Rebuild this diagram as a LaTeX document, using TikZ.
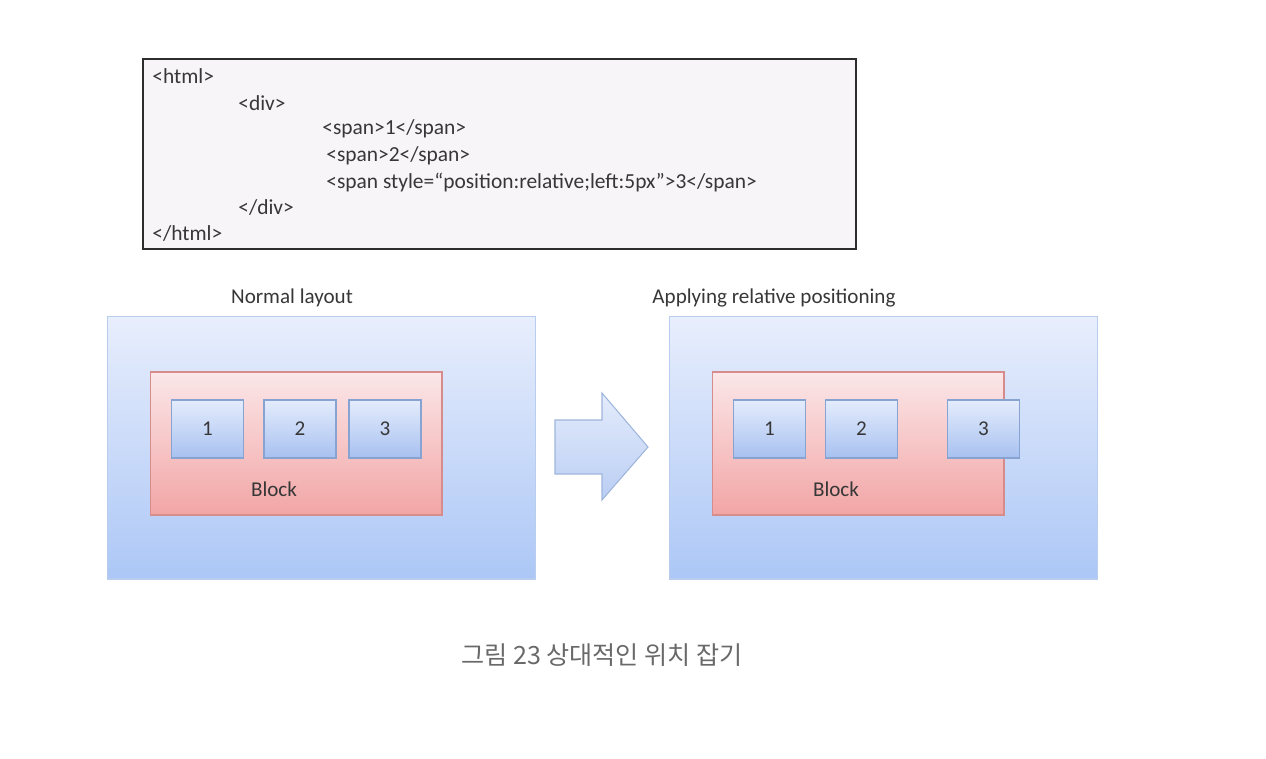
\documentclass[tikz,border=0pt]{standalone}
\usepackage{fontspec}
\setmainfont{Carlito}
\newfontfamily\krfont{Noto Sans CJK KR}
\usepackage{tikz}
\usetikzlibrary{positioning, shadows}
\definecolor{codefill}{RGB}{248,245,248}
\definecolor{codeline}{RGB}{45,45,45}
\definecolor{pagetop}{RGB}{232,238,252}
\definecolor{pagebot}{RGB}{172,199,246}
\definecolor{pageline}{RGB}{185,205,238}
\definecolor{blocktop}{RGB}{251,231,233}
\definecolor{blockbot}{RGB}{242,165,165}
\definecolor{blockline}{RGB}{215,140,140}
\definecolor{spantop}{RGB}{228,236,252}
\definecolor{spanbot}{RGB}{168,193,240}
\definecolor{spanline}{RGB}{135,163,210}
\definecolor{txtdark}{RGB}{55,55,55}
\definecolor{capgray}{RGB}{105,105,105}
\tikzset{
  codebox/.style={rectangle, draw=codeline, fill=codefill, line width=1.2pt,
    minimum width=14.26cm, minimum height=3.8cm},
  codetext/.style={anchor=west, inner sep=0pt, font=\fontsize{12.2}{14}\selectfont, text=txtdark},
  pagebox/.style={rectangle, draw=pageline, top color=pagetop, bottom color=pagebot,
    minimum width=8.56cm, minimum height=5.26cm, line width=0.6pt},
  blockbox/.style={rectangle, draw=blockline, top color=blocktop, bottom color=blockbot,
    minimum width=5.84cm, minimum height=2.86cm, line width=0.6pt,
    drop shadow={opacity=0.2, shadow xshift=0.5pt, shadow yshift=-0.8pt}},
  spanbox/.style={rectangle, draw=spanline, top color=spantop, bottom color=spanbot,
    minimum width=1.44cm, minimum height=1.16cm, line width=0.6pt,
    font=\fontsize{12}{14}\selectfont, text=txtdark,
    drop shadow={opacity=0.2, shadow xshift=0.5pt, shadow yshift=-0.8pt}},
  titletext/.style={font=\fontsize{12}{14}\selectfont, text=txtdark, inner sep=0pt},
  arrowshape/.style={draw=spanline!80, top color=spantop, bottom color=spanbot!80, line width=0.6pt}
}

\begin{document}
\begin{tikzpicture}[x=0.02cm, y=-0.02cm]
  \useasboundingbox (0,0) rectangle (1266,758);

  % HTML source
  \node[codebox] (code) at (499.5,154) {};
  \node[codetext] (l1) at (152,76) {<html>};
  \node[codetext] (l2) at (238,103) {<div>};
  \node[codetext] (l3) at (322,129) {<span>1</span>};
  \node[codetext] (l4) at (326,156) {<span>2</span>};
  \node[codetext] (l5) at (326,182) {<span style=“position:relative;left:5px”>3</span>};
  \node[codetext] (l6) at (238,208) {</div>};
  \node[codetext] (l7) at (152,234) {</html>};

  % Normal layout
  \node[titletext] (normtitle) at (292,298) {Normal layout};
  \node[pagebox] (normpage) at (321.5,447.5) {};
  \node[blockbox] (normblock) at (296,443.5) {};
  \node[spanbox] (n1) at (207.5,429) {1};
  \node[spanbox] (n2) at (300,429) {2};
  \node[spanbox] (n3) at (385,429) {3};
  \node[titletext] (normlabel) at (274,489) {Block};

  % Block arrow
  \shade[arrowshape] (555,420) -- (602,420) -- (602,393) -- (648,447)
    -- (602,500) -- (602,474) -- (555,474) -- cycle;

  % Relative positioning
  \node[titletext] (reltitle) at (774,298) {Applying relative positioning};
  \node[pagebox] (relpage) at (883.5,447.5) {};
  \node[blockbox] (relblock) at (858,443.5) {};
  \node[spanbox] (r1) at (769.5,429) {1};
  \node[spanbox] (r2) at (861.5,429) {2};
  \node[spanbox] (r3) at (983.5,429) {3};
  \node[titletext] (rellabel) at (836,489) {Block};

  % Caption
  \node[font=\krfont\fontsize{14.3}{17}\selectfont, text=capgray] (caption) at (602,655)
    {그림 23 상대적인 위치 잡기};
\end{tikzpicture}
\end{document}
